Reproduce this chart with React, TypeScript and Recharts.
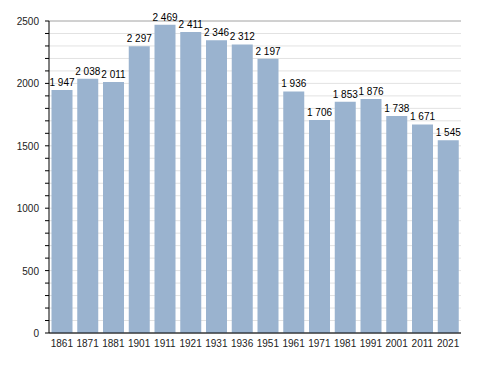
import React from 'react';
import {
  BarChart,
  Bar,
  XAxis,
  YAxis,
  CartesianGrid,
  LabelList,
} from 'recharts';

const years = ['1861', '1871', '1881', '1901', '1911', '1921', '1931', '1936', '1951', '1961', '1971', '1981', '1991', '2001', '2011', '2021'];
const population = [1947, 2038, 2011, 2297, 2469, 2411, 2346, 2312, 2197, 1936, 1706, 1853, 1876, 1738, 1671, 1545];
const minorTicks = [0, 100, 200, 300, 400, 500, 600, 700, 800, 900, 1000, 1100, 1200, 1300, 1400, 1500, 1600, 1700, 1800, 1900, 2000, 2100, 2200, 2300, 2400, 2500];
const majorTicks = [0, 500, 1000, 1500, 2000, 2500];

const data = years.map((year, i) => ({ year, value: population[i] }));

const FONT = "'Liberation Sans', Arial, sans-serif";

const fmt = (v: number) => {
  const s = String(v);
  return s.length > 3 ? s.slice(0, s.length - 3) + '\u00a0' + s.slice(-3) : s;
};

const YTick = (props: any) => {
  const { x, y, payload } = props;
  if (payload.value % 500 !== 0) return null;
  return (
    <text x={x} y={y} dx={-4} dy={4} textAnchor="end" fontSize={10} fontFamily={FONT} fill="#222">
      {payload.value}
    </text>
  );
};

export default function App() {
  return (
    <div style={{ position: 'absolute', left: 0, top: 0, background: '#fff' }}>
      <BarChart
        width={488}
        height={373}
        data={data}
        margin={{ top: 21, right: 27, left: 0, bottom: 0 }}
        barCategoryGap={2.5}
      >
        <CartesianGrid yAxisId="minor" vertical={false} stroke="#e2e2e2" />
        <CartesianGrid yAxisId="major" vertical={false} stroke="#b0b0b0" />
        <XAxis
          dataKey="year"
          height={40}
          tickLine={false}
          axisLine={{ stroke: '#000', strokeWidth: 1 }}
          interval={0}
          tick={{ fontSize: 10, fontFamily: FONT, fill: '#222' }}
          tickMargin={1}
        />
        <YAxis
          yAxisId="minor"
          orientation="left"
          width={49}
          domain={[0, 2500]}
          ticks={minorTicks}
          interval={0}
          tickSize={4}
          tickLine={{ stroke: '#000' }}
          axisLine={{ stroke: '#000', strokeWidth: 1 }}
          tick={<YTick />}
        />
        <YAxis yAxisId="major" orientation="right" hide domain={[0, 2500]} ticks={majorTicks} interval={0} />
        <Bar yAxisId="minor" dataKey="value" fill="#9ab3cf" isAnimationActive={false}>
          <LabelList
            dataKey="value"
            position="top"
            offset={4}
            formatter={(v: any) => fmt(Number(v))}
            style={{ fontSize: 10, fontFamily: FONT, fill: '#000' }}
          />
        </Bar>
      </BarChart>
    </div>
  );
}
